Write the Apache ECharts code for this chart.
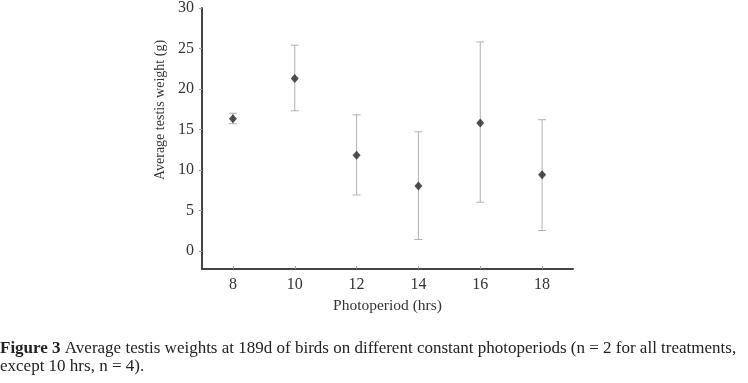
<!DOCTYPE html>
<html><head><meta charset="utf-8">
<script src="https://cdn.jsdelivr.net/npm/echarts@6/dist/echarts.min.js"></script>
<style>html,body{margin:0;padding:0;background:#fff}#c{width:748px;height:383px}</style>
</head><body><div id="c"></div>
<script>
var photoperiods = [8, 10, 12, 14, 16, 18];
var means = [16.3, 21.3, 11.8, 8.0, 15.8, 9.4];
var upper = [17.0, 25.4, 16.8, 14.7, 25.8, 16.2];
var lower = [15.7, 17.3, 6.9, 1.4, 6.0, 2.5];
var yTicks = [0, 5, 10, 15, 20, 25, 30];
var xTicks = [8, 10, 12, 14, 16, 18];

var pts = photoperiods.map(function (x, i) { return [x, means[i]]; });
var errs = photoperiods.map(function (x, i) { return [x, lower[i], upper[i]]; });
var font = '"Liberation Serif", "DejaVu Serif", serif';

var chart = echarts.init(document.getElementById('c'), null, {renderer: 'canvas'});
chart.setOption({
  animation: false,
  grid: {left: 202, right: 175, top: 2, bottom: 114},
  xAxis: {
    type: 'value', min: 7, max: 19,
    name: 'Photoperiod (hrs)', nameLocation: 'middle', nameGap: 26,
    nameTextStyle: {fontFamily: font, fontSize: 15.5, color: '#333'},
    axisLine: {show: true, onZero: false, lineStyle: {color: '#444', width: 2}},
    axisTick: {show: true, inside: true, length: 3, customValues: xTicks, lineStyle: {color: '#999'}},
    axisLabel: {customValues: xTicks, fontFamily: font, fontSize: 16, color: '#333', margin: 8},
    splitLine: {show: false}
  },
  yAxis: {
    type: 'value', min: -2.25, max: 30,
    axisLine: {show: true, onZero: false, lineStyle: {color: '#444', width: 2}},
    axisTick: {show: true, length: 3, customValues: yTicks, lineStyle: {color: '#999'}},
    axisLabel: {customValues: yTicks, fontFamily: font, fontSize: 16, color: '#333', margin: 8},
    splitLine: {show: false}
  },
  graphic: [
    {type: 'text', x: 160, y: 110, rotation: Math.PI / 2,
     style: {text: 'Average testis weight (g)', font: '14px ' + font, fill: '#333',
             textAlign: 'center', textVerticalAlign: 'middle'}},
    {type: 'text', left: 0, top: 340,
     style: {text: '{b|Figure 3} Average testis weights at 189d of birds on different constant photoperiods (n = 2 for all treatments,\nexcept 10 hrs, n = 4).',
             font: '17px ' + font, fill: '#222', lineHeight: 18,
             rich: {b: {fontWeight: 'bold', fontFamily: font, fontSize: 17, fill: '#222'}}}}
  ],
  series: [
    {
      type: 'custom', data: errs, z: 1,
      renderItem: function (params, api) {
        var x = api.value(0);
        var lo = api.coord([x, api.value(1)]);
        var hi = api.coord([x, api.value(2)]);
        var w = 4;
        var st = {stroke: '#b0b0b0', lineWidth: 1};
        return {type: 'group', children: [
          {type: 'line', shape: {x1: lo[0], y1: lo[1], x2: hi[0], y2: hi[1]}, style: st},
          {type: 'line', shape: {x1: lo[0] - w, y1: lo[1], x2: lo[0] + w, y2: lo[1]}, style: st},
          {type: 'line', shape: {x1: hi[0] - w, y1: hi[1], x2: hi[0] + w, y2: hi[1]}, style: st}
        ]};
      }
    },
    {
      type: 'scatter', data: pts, symbol: 'diamond', symbolSize: [8, 9], z: 2,
      itemStyle: {color: '#262626'}
    }
  ]
});
</script></body></html>
